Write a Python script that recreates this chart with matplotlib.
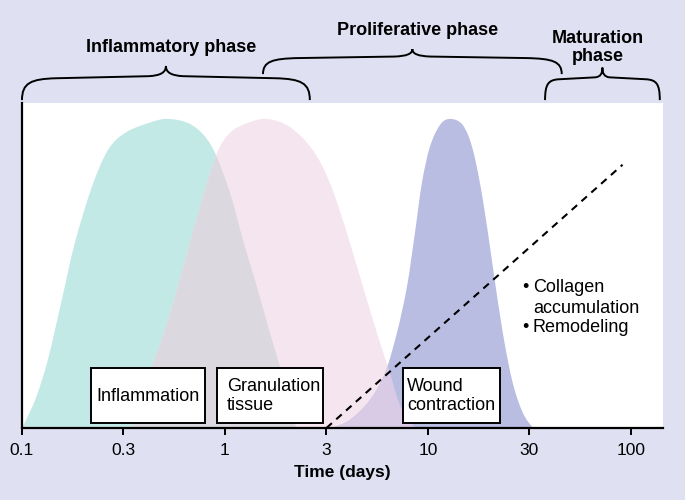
import numpy as np
import matplotlib
matplotlib.use("Agg")
import matplotlib.pyplot as plt
from matplotlib.patches import Rectangle
from matplotlib.path import Path
from matplotlib.patches import PathPatch

plt.rcParams['font.family'] = ['Liberation Sans', 'DejaVu Sans']

# ---------------- data ----------------
inflam_x = [0.1, 0.116, 0.134, 0.157, 0.182, 0.221, 0.265, 0.322, 0.418, 0.524,
            0.688, 0.863, 1.059, 1.227, 1.438, 1.667, 1.867, 2.09, 2.26]
inflam_y = [0, 8.6, 20.9, 39.4, 56.9, 74.2, 85.5, 90.8, 93.8, 95.1,
            93.2, 86.5, 72.3, 57.8, 43.4, 29.2, 18.8, 5.5, 0]

granul_x = [0.340, 0.381, 0.418, 0.468, 0.548, 0.657, 0.771, 0.914, 1.059, 1.283,
            1.61, 2.09, 2.71, 3.29, 3.99, 4.79, 5.61, 6.5, 7.28, 8.43, 9.14]
granul_y = [0, 5.5, 15.7, 24, 37.2, 54.8, 70.2, 84.6, 90.8, 93.8,
            95.1, 92.6, 85.5, 75.4, 60, 43.4, 29.2, 16.9, 7.1, 0.9, 0]

wound_x = [3.37, 4.13, 5.18, 6.14, 7.03, 7.88, 8.63, 9.34, 10.23, 11.46,
           12.83, 14.86, 16.67, 18.66, 20.9, 23.4, 26.2, 29.4, 32.9]
wound_y = [0, 2.5, 8.6, 16.9, 29.2, 43.4, 60, 75.4, 86.5, 93.2,
           95.1, 93.2, 85.5, 70.2, 49.5, 29.2, 13.8, 4.6, 0]

collagen_x = [3, 91]
collagen_y = [0, 81]

tick_values = [0.1, 0.3, 1, 3, 10, 30, 100]
tick_labels = ['0.1', '0.3', '1', '3', '10', '30', '100']

phase_names = ['Inflammatory phase', 'Proliferative phase', 'Maturation\nphase']
box_labels = ['Inflammation', 'Granulation\ntissue', 'Wound\ncontraction']

# ---------------- style ----------------
BG = '#dfe1f2'
TEAL = '#c3e9e7'
PINK = '#f5e5ee'
GRAY = '#dbd9df'
BLUE = '#b9bde2'
PURPLE = '#d9cbe5'


def axis_pos(v):
    # the schematic axis puts 0.3, 3, 30 at the half-decade marks
    return 10 ** (np.round(np.log10(v) * 2) / 2)


def smooth_path(xs, ys):
    """Closed smooth (Catmull-Rom as cubic Bezier) outline through the read points,
    built in log-x space so the log transform keeps it smooth."""
    P = np.column_stack([np.log10(xs), ys])
    n = len(P)
    verts = [P[0]]
    codes = [Path.MOVETO]
    for i in range(n - 1):
        p0 = P[i - 1] if i > 0 else P[i]
        p1 = P[i]
        p2 = P[i + 1]
        p3 = P[i + 2] if i + 2 < n else P[i + 1]
        c1 = p1 + (p2 - p0) / 6.0
        c2 = p2 - (p3 - p1) / 6.0
        verts += [c1, c2, p2]
        codes += [Path.CURVE4] * 3
    verts.append(P[0])
    codes.append(Path.LINETO)
    verts.append(P[0])
    codes.append(Path.CLOSEPOLY)
    V = np.array(verts)
    V[:, 0] = 10 ** V[:, 0]
    return Path(V, codes)


fig = plt.figure(figsize=(6.85, 5.0), dpi=100, facecolor=BG)
ax = fig.add_axes([22 / 685, 72 / 500, 641 / 685, 325 / 500])
ax.set_facecolor('white')
ax.set_xscale('log')
ax.set_xlim(0.1, 144)
ax.set_ylim(0, 100)


def area(xs, ys, color, z):
    p = PathPatch(smooth_path(xs, ys), facecolor=color, edgecolor='none', lw=0, zorder=z)
    ax.add_patch(p)
    return p


teal = area(inflam_x, inflam_y, TEAL, 1)
pink = area(granul_x, granul_y, PINK, 1.1)
gray = area(granul_x, granul_y, GRAY, 1.2)
gray.set_clip_path(teal)
blue = area(wound_x, wound_y, BLUE, 1.3)
purple = area(wound_x, wound_y, PURPLE, 1.4)
purple.set_clip_path(pink)

cx = [axis_pos(collagen_x[0]), collagen_x[1]]
ax.plot(cx, collagen_y, color='black', lw=1.5, ls=(0, (3.5, 2.8)), zorder=2)

# spines / ticks
for s in ['top', 'right']:
    ax.spines[s].set_visible(False)
for s in ['left', 'bottom']:
    ax.spines[s].set_linewidth(1.6)
    ax.spines[s].set_color('black')
ax.set_yticks([])
ax.set_xticks([axis_pos(v) for v in tick_values])
ax.set_xticklabels(tick_labels, fontsize=12.5)
ax.xaxis.set_minor_locator(matplotlib.ticker.NullLocator())
ax.tick_params(axis='x', direction='out', length=5, width=1.4, pad=6)
ax.set_xlabel('Time (days)', fontsize=12.5, fontweight='bold', labelpad=5)

# boxes
boxes = [(0.1076, 0.2855), (0.3042, 0.4696), (0.5944, 0.7457)]
for (x0, x1) in boxes:
    ax.add_patch(Rectangle((x0, 0.0154), x1 - x0, 0.1692, transform=ax.transAxes,
                           facecolor='white', edgecolor='black', lw=1.4, zorder=3))
ax.text(0.1966, 0.098, box_labels[0], transform=ax.transAxes, ha='center', va='center',
        fontsize=13, zorder=4)
ax.text(0.3198, 0.098, box_labels[1], transform=ax.transAxes, ha='left', va='center',
        fontsize=13, zorder=4, linespacing=1.2)
ax.text(0.6010, 0.098, box_labels[2], transform=ax.transAxes, ha='left', va='center',
        fontsize=13, zorder=4, linespacing=1.2)

# bullet notes
for yy, bullet, txt in [(0.431, True, 'Collagen'), (0.369, False, 'accumulation'),
                        (0.308, True, 'Remodeling')]:
    if bullet:
        ax.text(0.780, yy, '\u2022', transform=ax.transAxes, ha='left', va='center', fontsize=13)
    ax.text(0.797, yy, txt, transform=ax.transAxes, ha='left', va='center', fontsize=13)


# braces
def brace(x0, x1, y0, h):
    W = x1 - x0
    xm = (x0 + x1) / 2
    yl = y0 + 0.62 * h
    verts = [
        (x0, y0), (x0, y0 + 0.5 * h), (x0 + 0.03 * W, yl), (x0 + 0.12 * W, yl + 0.02 * h),
        (xm - 0.06 * W, yl + 0.08 * h),
        (xm - 0.02 * W, yl + 0.10 * h), (xm, yl + 0.18 * h), (xm, y0 + h),
        (xm, yl + 0.18 * h), (xm + 0.02 * W, yl + 0.10 * h), (xm + 0.06 * W, yl + 0.08 * h),
        (x1 - 0.12 * W, yl + 0.02 * h),
        (x1 - 0.03 * W, yl), (x1, y0 + 0.5 * h), (x1, y0),
    ]
    codes = [Path.MOVETO, Path.CURVE4, Path.CURVE4, Path.CURVE4,
             Path.LINETO,
             Path.CURVE4, Path.CURVE4, Path.CURVE4,
             Path.CURVE4, Path.CURVE4, Path.CURVE4,
             Path.LINETO,
             Path.CURVE4, Path.CURVE4, Path.CURVE4]
    p = PathPatch(Path(verts, codes), transform=ax.transAxes, facecolor='none',
                  edgecolor='black', lw=1.4, clip_on=False)
    ax.add_patch(p)


brace(0.0, 0.449, 1.009, 0.105)
brace(0.376, 0.842, 1.089, 0.077)
brace(0.816, 0.995, 1.009, 0.100)

ax.text(0.2324, 1.172, phase_names[0], transform=ax.transAxes, ha='center', va='center',
        fontsize=13, fontweight='bold')
ax.text(0.6178, 1.224, phase_names[1], transform=ax.transAxes, ha='center', va='center',
        fontsize=13, fontweight='bold')
ax.text(0.8986, 1.171, phase_names[2], transform=ax.transAxes, ha='center', va='center',
        fontsize=13, fontweight='bold', linespacing=1.1)

fig.savefig('out.png', dpi=100, facecolor=BG)
